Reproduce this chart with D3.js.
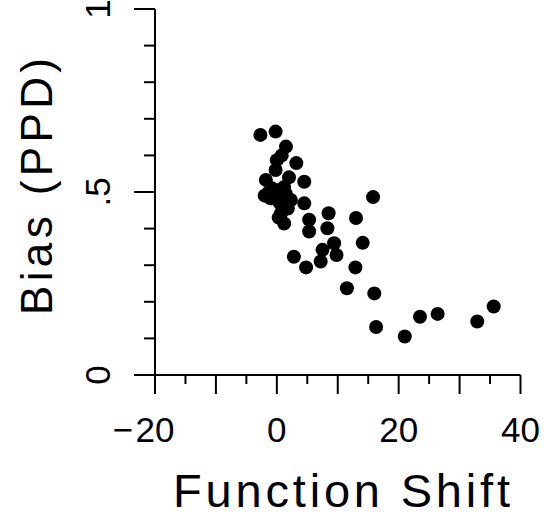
<!DOCTYPE html>
<html>
<head>
<meta charset="utf-8">
<script src="https://cdn.jsdelivr.net/npm/d3@7"></script>
<style>
  body { margin: 0; background: #fff; }
  svg { display: block; }
  text { font-family: "Liberation Sans", Arial, sans-serif; fill: #000; }
</style>
</head>
<body>
<svg id="chart" width="544" height="517"></svg>
<script>
// function shift vs bias
var shift = [-2.7, -0.2, 1.5, 3.2, 0.0, -0.2, -1.8, 4.5, 1.2, 0.1, -1.0, 2.3, 4.5, 0.7, 1.2, 5.3, 5.3,
             -2.0, 1.8, 0.5, 0.8, -0.8, 1.5, 0.3, 2.0, -1.3,
             8.5, 8.3, 9.4, 9.8, 7.5, 7.2, 4.8, 2.8, 11.5, 12.9, 14.1, 13.0, 15.8, 16.0, 16.3,
             21.0, 23.5, 26.4, 32.9, 35.6];
var bias  = [0.656, 0.665, 0.624, 0.579, 0.587, 0.560, 0.533, 0.528, 0.514, 0.505, 0.483, 0.478, 0.469, 0.442, 0.414, 0.424, 0.392,
             0.490, 0.455, 0.470, 0.600, 0.510, 0.495, 0.430, 0.540, 0.500,
             0.442, 0.401, 0.360, 0.328, 0.342, 0.310, 0.294, 0.323, 0.237, 0.294, 0.361, 0.429, 0.486, 0.223, 0.131,
             0.105, 0.159, 0.167, 0.146, 0.187];

var xTicks = [-20, -15, -10, -5, 0, 5, 10, 15, 20, 25, 30, 35, 40];
var xMajor = [-20, -10, 0, 10, 20, 30, 40];
var xLabels = [-20, 0, 20, 40];
var yTicks = [0, 0.1, 0.2, 0.3, 0.4, 0.5, 0.6, 0.7, 0.8, 0.9, 1];
var yMajor = [0, 0.5, 1];
var yLabels = [{v: 0, t: "0"}, {v: 0.5, t: ".5"}, {v: 1, t: "1"}];

var svg = d3.select("#chart");

var x = d3.scaleLinear().domain([-20, 40]).range([155, 520.5]);
var y = d3.scaleLinear().domain([0, 1]).range([375, 9]);

// axis lines
svg.append("line")
    .attr("x1", x(-20)).attr("x2", x(40))
    .attr("y1", y(0)).attr("y2", y(0))
    .attr("stroke", "#000").attr("stroke-width", 2);
svg.append("line")
    .attr("x1", x(-20)).attr("x2", x(-20))
    .attr("y1", y(0)).attr("y2", y(1))
    .attr("stroke", "#000").attr("stroke-width", 2);

// x ticks
svg.append("g").selectAll("line")
    .data(xTicks)
    .enter().append("line")
      .attr("x1", function(d) { return x(d); })
      .attr("x2", function(d) { return x(d); })
      .attr("y1", y(0))
      .attr("y2", function(d) { return y(0) + (xMajor.indexOf(d) >= 0 ? 19 : 9); })
      .attr("stroke", "#000").attr("stroke-width", 2);

// y ticks
svg.append("g").selectAll("line")
    .data(yTicks)
    .enter().append("line")
      .attr("y1", function(d) { return y(d); })
      .attr("y2", function(d) { return y(d); })
      .attr("x1", x(-20))
      .attr("x2", function(d) { return x(-20) - (yMajor.indexOf(d) >= 0 ? 21 : 11); })
      .attr("stroke", "#000").attr("stroke-width", 2);

// x tick labels: digits centred on the tick, minus hangs left
svg.append("g").selectAll("text")
    .data(xLabels)
    .enter().append("text")
      .attr("x", function(d) { return x(d); })
      .attr("y", 442)
      .attr("text-anchor", "middle")
      .style("font-size", "35px")
      .text(function(d) { return Math.abs(d); });
svg.append("text")
    .attr("x", x(-20) - 22)
    .attr("y", 442)
    .attr("text-anchor", "end")
    .style("font-size", "35px")
    .text("\u2212");

// y tick labels, rotated
svg.append("g").selectAll("text")
    .data(yLabels)
    .enter().append("text")
      .attr("transform", function(d) { return "translate(110," + y(d.v) + ") rotate(-90)"; })
      .attr("text-anchor", "middle")
      .style("font-size", "35px")
      .text(function(d) { return d.t; });

// axis titles
svg.append("text")
    .attr("x", 173)
    .attr("y", 507)
    .attr("textLength", 337)
    .attr("lengthAdjust", "spacing")
    .style("font-size", "47px")
    .text("Function Shift");

svg.append("text")
    .attr("transform", "translate(52,315) rotate(-90)")
    .attr("textLength", 257)
    .attr("lengthAdjust", "spacing")
    .style("font-size", "44px")
    .text("Bias (PPD)");

// points
svg.append("g").selectAll("circle")
    .data(shift)
    .enter().append("circle")
      .attr("cx", function(d) { return x(d); })
      .attr("cy", function(d, i) { return y(bias[i]); })
      .attr("r", 7)
      .attr("fill", "#000");
</script>
</body>
</html>
